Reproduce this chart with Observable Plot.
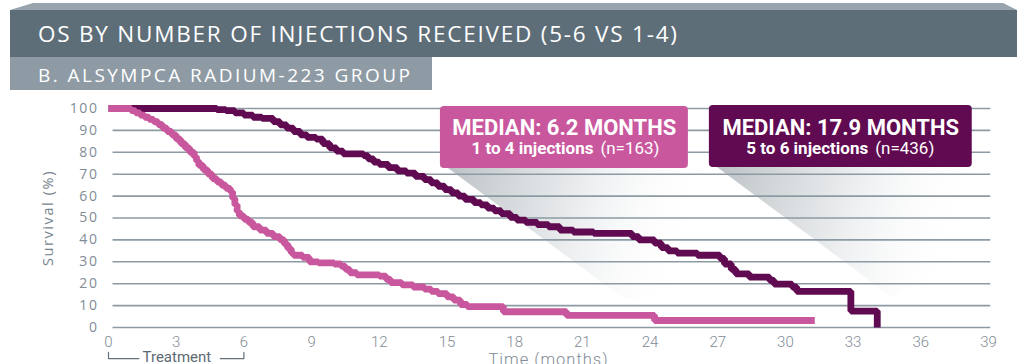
<!DOCTYPE html>
<html><head><meta charset="utf-8">
<script src="https://cdn.jsdelivr.net/npm/d3@7"></script>
<script src="https://cdn.jsdelivr.net/npm/@observablehq/plot@0.6"></script>
<style>
body{margin:0;background:#fff;width:1023px;height:364px;overflow:hidden;font-family:"Open Sans",sans-serif;}
#header svg, #chart svg{display:block;}
#chart svg g[aria-label="y-axis tick label"] text{letter-spacing:1.6px;font-family:"Open Sans";font-size:14px;fill:#7f8c96;}
#chart svg g[aria-label="x-axis tick label"] text{font-family:Roboto;font-weight:300;font-size:15px;fill:#7f8b95;}
#chart svg g[aria-label="y-axis label"] text{letter-spacing:1.6px;font-family:"Open Sans";font-size:14.5px;fill:#76838d;}
#chart svg g[aria-label="x-axis label"] text{letter-spacing:1px;font-family:Roboto;font-weight:300;font-size:16.5px;fill:#7f8b95;}
</style></head><body>
<div id="header"></div>
<div id="chart"></div>
<script>
const title = "OS BY NUMBER OF INJECTIONS RECEIVED (5-6 VS 1-4)";
const subtitle = "B. ALSYMPCA RADIUM-223 GROUP";
const xLabel = "Time (months)";
const yLabel = "Survival (%)";
const xTicks = [0,3,6,9,12,15,18,21,24,27,30,33,36,39];
const yTicks = [0,10,20,30,40,50,60,70,80,90,100];
const seriesNames = ["1 to 4 injections","5 to 6 injections"];
const seriesN = [163, 436];
const medians = [6.2, 17.9];

// 1 to 4 injections (pink)
const lowTime = [0,1.0,1.2,1.4,1.6,1.8,2.0,2.2,2.4,2.6,2.8,3.0,3.2,3.4,3.6,3.8,3.9,4.0,4.2,4.4,4.6,4.8,5.0,5.2,5.4,5.5,5.6,5.7,5.8,6.0,6.2,6.4,6.7,7.0,7.3,7.6,7.8,7.95,8.1,8.2,8.6,8.9,9.3,10.0,10.3,10.5,10.7,11.0,12.0,12.3,12.5,13.0,13.5,14.0,14.3,14.6,15.0,15.3,15.6,15.9,17.5,20.3,24.2,31.3];
const lowSurv = [100,99,98,97,96,95,94,92.6,91,89.5,88,86,84,82,80,78,76,74,72,70,68,66.5,65,63.5,62,59,56,53,51,49.5,48,46,44.5,43,41.5,40,38,36,34,33,32,30,29.5,29,28,26.5,25,24,23.5,22,20.5,19.5,18.5,17.5,16.5,15.5,14,12.5,10.5,9.5,7.2,5.5,3.2,3.2];

// 5 to 6 injections (dark purple)
const highTime = [0,4.8,5.2,5.6,6.0,6.4,6.8,7.3,7.6,7.9,8.2,8.5,8.8,9.2,9.5,9.8,10.1,10.4,11.3,11.5,11.75,12.0,12.4,12.8,13.2,13.6,14.0,14.3,14.6,14.9,15.2,15.5,15.8,16.2,16.5,16.8,17.1,17.4,17.8,18.1,18.5,19.0,19.5,20.0,20.6,21.5,23.2,23.5,24.2,24.5,24.8,25.2,26.1,27.1,27.3,27.6,27.8,28.4,29.3,29.5,30.3,30.5,32.9,34.07];
const highSurv = [100,99.5,99,98,97,96,95.5,94,92.5,91,89.5,88,86.8,86,84,82,80.5,79.3,78.5,77,75.5,74.5,73,71.5,70.5,69,67.5,66,64.5,63,61.5,60,58.5,57,56,54.5,53.3,52,50.3,49,48,47,46,44.5,43.6,43,41.5,40,38.5,36.5,35,34,33,31.5,29,26.5,24.5,23,21.5,19.8,18.5,16.5,7.5,0];

const colors = ["#c9579e", "#5f0a51"];

// ---------- header ----------
const hdr = d3.select("#header").append("svg").attr("width",1023).attr("height",90);
hdr.append("polygon").attr("points","10,10 33,3 1003,3 1017,10").attr("fill","#97a4ad");
hdr.append("rect").attr("x",10).attr("y",10).attr("width",1007).attr("height",47).attr("fill","#5e6e79");
hdr.append("rect").attr("x",10).attr("y",57).attr("width",422).attr("height",33).attr("fill","#8e9ba5");
hdr.append("text").attr("x",38).attr("y",42).attr("font-family","Open Sans").attr("font-size",22.5)
  .attr("fill","#fff").attr("textLength",639).attr("lengthAdjust","spacing").text(title);
hdr.append("text").attr("x",38).attr("y",82).attr("font-family","Open Sans").attr("font-size",19)
  .attr("fill","#fff").attr("textLength",372).attr("lengthAdjust","spacing").text(subtitle);

// ---------- chart ----------
const low = lowTime.map((t,i)=>({t, s:lowSurv[i], g:seriesNames[0]}));
const high = highTime.map((t,i)=>({t, s:highSurv[i], g:seriesNames[1]}));

// annotation boxes (months / %)
const boxes = [
  {x1:14.71, x2:25.70, y1:72.6, y2:100.9, fill:colors[0], cx:20.2, split:21.49, split2:21.8, i:0},
  {x1:26.63, x2:38.28, y1:73.1, y2:101.4, fill:colors[1], cx:32.45, split:33.67, split2:33.98, i:1}
];
const l1 = boxes.map(b=>({x:b.cx, y:88.1, text:`MEDIAN: ${medians[b.i]} MONTHS`}));
const l2a = boxes.map(b=>({x:b.split, y:79.4, text:seriesNames[b.i]}));
const l2b = boxes.map(b=>({x:b.split2, y:79.4, text:`(n=${seriesN[b.i]})`}));

const bracketL = [{t:0,s:-11.4},{t:0,s:-14.2},{t:1.35,s:-14.2}];
const bracketR = [{t:4.95,s:-14.2},{t:6,s:-14.2},{t:6,s:-11.4}];

const plot = Plot.plot({
  width:1023, height:274,
  marginLeft:108, marginRight:35, marginTop:18, marginBottom:37,
  style:{fontFamily:"Open Sans", background:"transparent", overflow:"visible", color:"#7f8c96"},
  x:{domain:[0,39], ticks:xTicks, tickSize:0, tickPadding:9, label:xLabel, labelArrow:false, labelAnchor:"center", labelOffset:37, tickFormat:d=>String(d)},
  y:{domain:[0,100], ticks:yTicks, tickSize:0, tickPadding:10, label:yLabel, labelArrow:false, labelAnchor:"center", labelOffset:66, tickFormat:d=>String(d)},
  marks:[
    Plot.ruleY(yTicks, {x1:0.2, x2:39.1, stroke:"#8d9aa3", strokeWidth:1.6}),
    Plot.line(high, {x:"t", y:"s", curve:"step-after", stroke:colors[1], strokeWidth:6.8, strokeLinejoin:"miter", strokeLinecap:"butt"}),
    Plot.line(low, {x:"t", y:"s", curve:"step-after", stroke:colors[0], strokeWidth:6.8, strokeLinejoin:"miter", strokeLinecap:"butt"}),
    Plot.rect(boxes, {x1:"x1", x2:"x2", y1:"y1", y2:"y2", fill:"fill", rx:4}),
    Plot.text(l1, {x:"x", y:"y", text:"text", fill:"white", fontWeight:"bold", fontFamily:"Roboto", fontSize:22, lineAnchor:"bottom", ariaLabel:"median-title"}),
    Plot.text(l2a, {x:"x", y:"y", text:"text", fill:"white", fontWeight:"bold", fontFamily:"Roboto", fontSize:17, textAnchor:"end", lineAnchor:"bottom", ariaLabel:"median-group"}),
    Plot.text(l2b, {x:"x", y:"y", text:"text", fill:"white", fontWeight:"normal", fontFamily:"Roboto", fontSize:17, textAnchor:"start", lineAnchor:"bottom", ariaLabel:"median-n"}),
    Plot.line(bracketL, {x:"t", y:"s", stroke:"#66727b", strokeWidth:1.2}),
    Plot.line(bracketR, {x:"t", y:"s", stroke:"#66727b", strokeWidth:1.2}),
    Plot.text(["Treatment"], {x:3.03, y:-15.8, text:d=>d, fill:"#5d6972", fontFamily:"Roboto", fontSize:15, lineAnchor:"bottom", ariaLabel:"treatment"})
  ]
});
document.getElementById("chart").appendChild(plot);

const svg = d3.select(plot);
// plain axis labels (no arrows)
svg.selectAll('g[aria-label="x-axis label"] text').text(xLabel);
svg.selectAll('g[aria-label="y-axis label"] text').text(yLabel);

// condense box texts to reference widths
const widths = {"median-title":[207,217], "median-group":[120,123], "median-n":[57,58]};
for (const k in widths) {
  svg.selectAll(`g[aria-label="${k}"] text`).each(function(d,i){
    this.setAttribute("textLength", widths[k][i]);
    this.setAttribute("lengthAdjust", "spacingAndGlyphs");
  });
}
svg.selectAll('g[aria-label="treatment"] text').attr("textLength",67).attr("lengthAdjust","spacingAndGlyphs");

// shadows cast by the boxes (drawn beneath everything)
const X = plot.scale("x"), Y = plot.scale("y");
const defs = svg.insert("defs", ":first-child");
const shadowG = svg.insert("g", "defs + *").attr("aria-label","shadows");
boxes.forEach((b,i)=>{
  const L = X.apply(b.x1), R = X.apply(b.x2), T = Y.apply(b.y2), B = Y.apply(b.y1);
  const gid = "sh"+i;
  const g = defs.append("linearGradient").attr("id",gid).attr("gradientUnits","userSpaceOnUse")
    .attr("x1",L+8).attr("y1",B+10).attr("x2",L+250).attr("y2",B+80);
  g.append("stop").attr("offset",0).attr("stop-color","#bcc2c6").attr("stop-opacity",1);
  g.append("stop").attr("offset",0.5).attr("stop-color","#e3e6e8").attr("stop-opacity",0.8);
  g.append("stop").attr("offset",1).attr("stop-color","#ffffff").attr("stop-opacity",0);
  let pts;
  if (i===0) pts = [[L+8,B],[R+18,B],[R+18,B+130],[L+183,B+130]];
  else pts = [[L+8,B],[R,B],[R,T+2],[R+120,T+90],[L+183,B+130]];
  shadowG.append("polygon").attr("points", pts.map(p=>p.join(",")).join(" ")).attr("fill",`url(#${gid})`);
});
</script>
</body></html>
